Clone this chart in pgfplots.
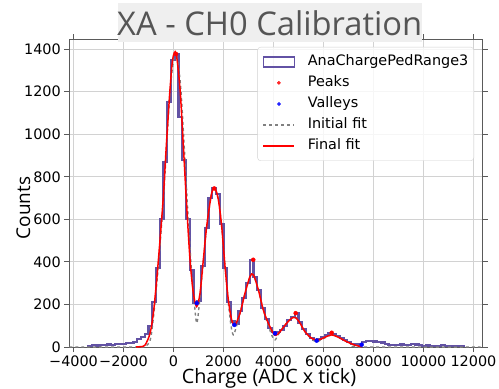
\documentclass[border=0pt]{standalone}
\usepackage{fontspec}
\setmainfont{DejaVu Sans}
\newfontfamily\titlefont{Open Sans}
\usepackage{pgfplots}
\pgfplotsset{compat=1.18}
\definecolor{histc}{RGB}{98,82,164}
\definecolor{titlebg}{RGB}{239,239,239}
\definecolor{titletext}{RGB}{85,85,85}
\definecolor{gridc}{RGB}{210,210,210}
\definecolor{framec}{RGB}{90,90,90}
\begin{document}
\begin{tikzpicture}[x=1bp,y=1bp]
\useasboundingbox (0,0) rectangle (499,388);
\begin{axis}[at={(69.3bp,41bp)}, anchor=south west, scale only axis,
 width=413.4bp, height=307.7bp,
 xmin=-4170, xmax=12370, ymin=0, ymax=1446,
 scaled x ticks=false, scaled y ticks=false,
 xtick={-4000,-2000,...,12000},
 xticklabels={−4000,−2000,0,2000,4000,6000,8000,10000,12000},
 ytick={0,200,...,1400},
 yticklabels={0,200,400,600,800,1000,1200,1400},
 tick align=outside, major tick length=5bp,
 tick style={framec, line width=0.8bp},
 grid=major, grid style={gridc, line width=0.8bp},
 axis line style={framec, line width=0.8bp},
 tick label style={font=\fontsize{14.4bp}{16bp}\selectfont},
 legend style={at={(1,1)}, anchor=north east, xshift=-8.7bp, yshift=-7.7bp,
   draw=gridc, rounded corners=3bp, fill=white, fill opacity=0.8, text opacity=1,
   font=\fontsize{14.4bp}{16bp}\selectfont, inner xsep=5bp, inner ysep=7.3bp,
   nodes={inner sep=0.5bp, text height=10.5bp, text depth=3bp},
   row sep=6.6bp, /tikz/every odd column/.append style={column sep=12bp}},
 legend cell align=left,
]
\addplot[histc, line width=2.1bp, const plot mark left,
  legend image code/.code={\draw[histc, line width=1.8bp, sharp corners] (0bp,-5bp) rectangle (31bp,5bp);}]
 coordinates {
 (-3400,0) (-3400,6) (-3250,8) (-3100,7) (-2950,10) (-2800,9) (-2650,12) (-2500,11)
 (-2350,13) (-2200,15) (-2050,14) (-1900,18) (-1750,20) (-1600,22) (-1450,38)
 (-1300,45) (-1150,62) (-1000,100) (-850,210) (-700,370) (-550,600) (-400,870)
 (-250,1150) (-100,1350) (50,1377) (200,1080) (350,880) (500,600) (650,360)
 (800,205) (950,215) (1100,380) (1250,560) (1400,700) (1550,745) (1700,720)
 (1850,580) (2000,370) (2150,210) (2300,120) (2450,110) (2600,170) (2750,230)
 (2900,300) (3050,410) (3200,330) (3350,270) (3500,185) (3650,130) (3800,88)
 (3950,70) (4100,72) (4250,80) (4400,100) (4550,125) (4700,140) (4850,158)
 (5000,115) (5150,85) (5300,60) (5450,42) (5600,32) (5750,38) (5900,45)
 (6050,55) (6200,67) (6350,60) (6500,52) (6650,42) (6800,32) (6950,22)
 (7100,15) (7250,12) (7400,10) (7550,22) (7700,27) (7850,30) (8000,26)
 (8150,25) (8300,21) (8450,15) (8600,11) (8750,9) (8900,9) (9050,12)
 (9200,8) (9350,11) (9500,16) (9650,12) (9800,9) (9950,6) (10100,7)
 (10250,5) (10400,6) (10550,4) (10700,9) (10850,3) (11000,4) (11150,3)
 (11300,4) (11450,5) (11600,5) (11600,0)
 };
\addlegendentry{AnaChargePedRange3}
\addplot[only marks, mark=*, mark size=2bp, red,
  legend image code/.code={\fill[red] (15.5bp,0bp) circle[radius=1.6bp];}] coordinates {
 (100,1377) (1630,745) (3190,410) (4887,159) (6327,67)};
\addlegendentry{Peaks}
\addplot[only marks, mark=*, mark size=2bp, blue,
  legend image code/.code={\fill[blue] (15.5bp,0bp) circle[radius=1.6bp];}] coordinates {
 (928,206) (2433,104) (4060,64) (5727,30) (7527,11)};
\addlegendentry{Valleys}
\addplot[gray, dashed, line width=1.4bp, smooth,
  legend image code/.code={\draw[gray, dashed, line width=1.4bp, sharp corners] (0bp,0bp) -- (31bp,0bp);}] coordinates {
 (-4170,0) (-1500,0) (-1100,5) (-900,50) (-700,260) (-540,480) (-400,700) (-270,960)
 (-140,1200) (0,1350) (120,1375) (280,1230) (420,960) (560,660) (700,390)
 (830,210) (928,112) (1030,200) (1193,400) (1327,567) (1527,724) (1660,743)
 (1793,693) (1927,567) (2060,379) (2193,210) (2300,100) (2393,57) (2500,90)
 (2660,160) (2860,253) (3060,331) (3193,340) (3393,269) (3593,174) (3793,100)
 (3950,50) (4060,33) (4200,60) (4400,95) (4727,135) (4887,138) (5060,112)
 (5260,72) (5527,38) (5727,25) (6000,40) (6327,57) (6593,46) (6927,25)
 (7260,8) (7600,0) (12370,0)};
\addlegendentry{Initial fit}
\addplot[red, line width=1.5bp, smooth,
  legend image code/.code={\draw[red, line width=1.5bp, sharp corners] (0bp,0bp) -- (31bp,0bp);}] coordinates {
 (-1500,0) (-1300,2) (-1140,9) (-940,64) (-807,159) (-673,316) (-540,504)
 (-407,709) (-273,976) (-140,1212) (-33,1353) (100,1381) (260,1212) (393,944)
 (527,661) (660,410) (793,253) (927,190) (1060,253) (1193,410) (1327,567)
 (1527,724) (1660,743) (1793,693) (1927,567) (2060,379) (2193,222) (2327,127)
 (2460,104) (2660,159) (2860,253) (3060,331) (3193,340) (3393,269) (3593,174)
 (3793,112) (3993,64) (4100,55) (4260,72) (4527,112) (4727,135) (4887,138)
 (5060,112) (5260,72) (5527,41) (5793,33) (6060,46) (6327,57) (6593,46)
 (6927,25) (7260,9) (7527,1)};
\addlegendentry{Final fit}
\end{axis}
\fill[titlebg] (117.7,346.3) rectangle (421.7,384.7);
\node[anchor=base, text=titletext, inner sep=0pt, font=\titlefont\fontsize{32.7bp}{36bp}\selectfont] at (269.7,353) {XA - CH0 Calibration};
\node[anchor=base, inner sep=0pt, font=\titlefont\fontsize{19.8bp}{22bp}\selectfont] at (269,4.7) {Charge (ADC x tick)};
\node[anchor=base, rotate=90, inner sep=0pt, font=\titlefont\fontsize{19bp}{22bp}\selectfont] at (30,180) {Counts};
\end{tikzpicture}
\end{document}
